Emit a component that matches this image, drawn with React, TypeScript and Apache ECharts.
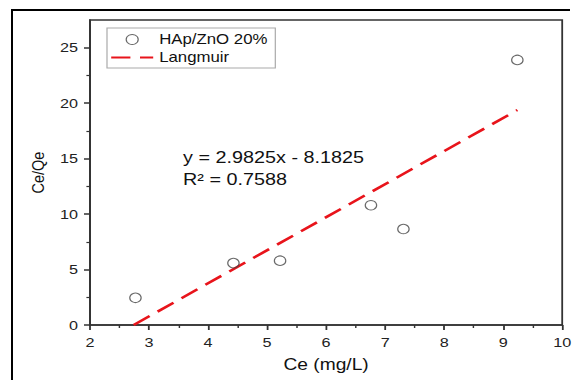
import React, { useEffect, useRef } from "react";
import * as echarts from "echarts";

// ---- data ----
const ceValues = [2.77, 4.43, 5.22, 6.76, 7.31, 9.24];
const ceQeValues = [2.45, 5.58, 5.8, 10.8, 8.65, 23.9];
const fitCe = [2.74, 9.24];
const fitCeQe = [0, 19.38];
const yMajorTicks = [0, 5, 10, 15, 20, 25];
const yMinorTicks = [2.5, 7.5, 12.5, 17.5, 22.5];
const seriesNames = ["HAp/ZnO 20%", "Langmuir"];
const equationLines = ["y = 2.9825x - 8.1825", "R² = 0.7588"];

const S = 1.2; // horizontal stretch of the reference picture
const W = 577 / S;
const H = 380;
const FONT = "'Liberation Sans', Arial, sans-serif";

export default function App() {
  const ref = useRef<HTMLDivElement>(null);
  useEffect(() => {
    if (!ref.current) return;
    const chart = echarts.init(ref.current, undefined, { renderer: "svg" });
    const axisLineStyle = { color: "#333", width: 1.5 };
    chart.setOption({
      animation: false,
      backgroundColor: "transparent",
      grid: {
        left: 90 / S,
        right: (577 - 562) / S,
        top: 20,
        bottom: 55,
        show: true,
        borderColor: "#333",
        borderWidth: 1.5,
        backgroundColor: "transparent",
      },
      legend: {
        data: [
          { name: seriesNames[0], itemStyle: { borderWidth: 1, borderColor: "#444", color: "#fff" } },
          { name: seriesNames[1], itemStyle: { opacity: 0 } },
        ],
        orient: "vertical",
        left: 107 / S,
        top: 28,
        padding: [4.5, 6.5, 3.5, 2.5],
        itemWidth: 35,
        itemHeight: 10,
        itemGap: 4,
        borderColor: "#aaa",
        borderWidth: 1,
        backgroundColor: "#fff",
        textStyle: { fontSize: 14, lineHeight: 14, fontFamily: FONT, color: "#111" },
      },
      xAxis: {
        type: "value",
        min: 2,
        max: 10,
        interval: 1,
        name: "Ce (mg/L)",
        nameLocation: "middle",
        nameGap: 32,
        nameTextStyle: { fontSize: 16, fontFamily: FONT, color: "#111" },
        axisLine: { show: true, lineStyle: axisLineStyle },
        axisTick: { show: true, inside: false, length: 5, lineStyle: axisLineStyle },
        minorTick: { show: true, splitNumber: 2, length: 3, lineStyle: { color: "#333", width: 1.2 } },
        axisLabel: { fontSize: 13.5, fontFamily: FONT, color: "#222", margin: 10 },
        splitLine: { show: false },
      },
      yAxis: [
        {
          type: "value",
          position: "left",
          min: 0,
          max: 27.5,
          name: "Ce/Qe",
          nameLocation: "middle",
          nameGap: 21,
          nameTextStyle: { fontSize: 14.5, fontFamily: FONT, color: "#111" },
          axisLine: { show: true, lineStyle: axisLineStyle },
          axisTick: { show: true, inside: false, length: 5, customValues: yMajorTicks, lineStyle: axisLineStyle },
          axisLabel: { fontSize: 13.5, fontFamily: FONT, color: "#222", margin: 10, customValues: yMajorTicks },
          splitLine: { show: false },
        },
        {
          type: "value",
          position: "left",
          min: 0,
          max: 27.5,
          axisLine: { show: false },
          axisTick: { show: true, inside: false, length: 3, customValues: yMinorTicks, lineStyle: { color: "#333", width: 1.2 } },
          axisLabel: { show: false },
          splitLine: { show: false },
        },
      ],
      series: [
        {
          name: seriesNames[1],
          type: "line",
          yAxisIndex: 0,
          data: fitCe.map((x, i) => [x, fitCeQe[i]]),
          showSymbol: false,
          symbol: "none",
          lineStyle: { color: "#e8141b", width: 2.5, type: [16, 8] },
          itemStyle: { color: "#e8141b" },
          z: 2,
        },
        {
          name: seriesNames[0],
          type: "scatter",
          yAxisIndex: 0,
          data: ceValues.map((x, i) => [x, ceQeValues[i]]),
          symbol: "circle",
          symbolSize: 9.5,
          itemStyle: { color: "rgba(255,255,255,0)", borderColor: "#444", borderWidth: 1 },
          z: 3,
        },
      ],
      graphic: [
        {
          type: "text",
          x: 183 / S,
          y: 158,
          style: { text: equationLines[0], fontSize: 16.5, fontFamily: FONT, fill: "#111", verticalAlign: "middle" },
        },
        {
          type: "text",
          x: 183 / S,
          y: 180,
          style: { text: equationLines[1], fontSize: 16.5, fontFamily: FONT, fill: "#111", verticalAlign: "middle" },
        },
      ],
    });
    return () => chart.dispose();
  }, []);
  return (
    <div style={{ position: "absolute", left: 0, top: 0, width: 577, height: H, overflow: "hidden", background: "#fff" }}>
      <div
        style={{
          position: "absolute",
          left: 11,
          top: 9,
          width: 559,
          height: 400,
          borderLeft: "2px solid #000",
          borderTop: "2px solid #000",
          boxSizing: "border-box",
        }}
      />
      <div
        ref={ref}
        style={{ position: "absolute", left: 0, top: 0, width: W, height: H, transform: `scaleX(${S})`, transformOrigin: "0 0" }}
      />
    </div>
  );
}
